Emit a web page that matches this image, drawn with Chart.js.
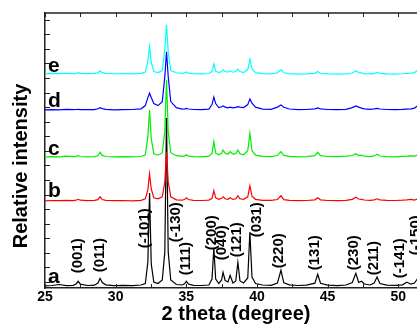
<!DOCTYPE html>
<html><head><meta charset="utf-8">
<script src="https://cdn.jsdelivr.net/npm/chart.js@4.4.0/dist/chart.umd.min.js"></script>
<style>
html,body{margin:0;padding:0;overflow:hidden;background:#fff;width:417px;height:325px}
#wrap{position:relative;width:420px;height:325px}
</style>
</head><body><div id="wrap"><canvas id="c" width="420" height="325"></canvas></div>
<script>
// 2-theta positions (degree)
const twoTheta = [25.0,25.5,26.0,26.5,27.0,27.2,27.35,27.5,28.0,28.5,28.75,28.9,29.05,29.3,29.9,30.5,31.2,31.8,32.1,32.28,32.4,32.52,32.7,33.0,33.3,33.48,33.6,33.72,33.9,34.3,34.7,34.9,35.0,35.15,35.5,36.1,36.6,36.82,36.95,37.08,37.3,37.5,37.6,37.75,37.95,38.1,38.3,38.5,38.65,38.8,39.05,39.35,39.5,39.65,39.9,40.4,41.0,41.45,41.7,41.9,42.3,42.9,43.5,44.1,44.3,44.5,45.0,45.7,46.3,46.75,47.0,47.2,47.4,47.6,48.0,48.3,48.5,48.7,49.2,49.8,50.3,50.6,50.9,51.15,51.4];
// relative intensity (stacked, arbitrary units)
const seriesA = [-3.8,-3.5,-2.5,-3.6,-3.3,-2.0,0.7,-2.2,-3.5,-3.2,-1.0,3.7,-0.5,-2.8,-3.6,-3.3,-3.7,-3.0,-1.5,20,88.7,18,0,-1.5,2,30,163.7,30,2,-2.5,-3.0,-1.5,0.7,-2.0,-3.4,-3.5,-3.0,3,33.7,3,-1.5,2,9.7,1.5,0,6.7,-1,1,19.7,1,-1,4,49.7,5,-1.5,-3.0,-3.3,-1.0,11.7,-0.8,-2.8,-3.5,-3.2,-1.2,7.7,-1.3,-3.2,-3.6,-3.0,-0.5,8.7,-0.5,0.7,-2,-3.0,-1.0,5,-1.5,-3.2,-3.4,-2.8,-0.3,-2.2,-1.0,4];
const seriesB = [81,81.3,81.1,81.4,81.2,81.6,82.5,81.6,81.2,81.4,82.2,85,82.3,81.4,81.1,81.3,81.0,81.5,83,92,108,93,84,83,85,100,129.7,100,85,82,81.6,82.5,84,82.3,81.5,81.3,81.7,83.5,91,84,82.5,83.5,85,83,82.5,84,82.4,83,86,83,82.5,85,96,85.5,82.5,81.5,81.4,82.3,86,82.2,81.5,81.2,81.3,82,84,82,81.3,81.2,81.5,82.5,84.5,82.8,82.5,81.8,81.4,82,83,82,81.4,81.3,81.6,82,82.5,81.8,83];
const seriesC = [124.7,125,124.9,125.5,125,125.3,126,125.2,124.9,125.1,126,129.5,126.3,125.2,124.8,125,124.8,125.2,127,145,171.7,143,128,126.5,129,150,201.7,150,129,126,125.3,125.8,127,125.6,125,124.9,125.5,128,140,128.5,127,128.5,131.7,128.5,127.5,130,127.5,128,131.7,128,127,131,148.4,131,126.5,125.3,125.1,126.2,130,126.3,125.4,124.9,125.1,126,129.4,126,125.2,125,125.5,126.2,128,126.2,126.5,125.5,125.1,125.8,127.5,125.7,125.1,124.9,125.3,125.5,125.8,125.6,127];
const seriesD = [171.7,171.9,171.8,172.2,171.9,172.1,172.3,172.0,171.9,172.0,172.8,174,173,172.2,171.8,172,172.1,172.8,176,184,188.4,184,178,176,180,205,229.7,205,180,174,172.5,172.8,173.2,172.6,172.1,172,172.5,177,184.4,178,174,174.8,175.7,174.5,173.8,174.4,173.8,174.2,175,174.5,174,177,182.7,178.5,174.5,172.5,172.3,174.5,176.7,174.3,172.6,172,172.1,172.7,173.7,172.8,172.1,171.9,172.3,174,175.7,174.5,173.5,172.7,172.2,172.7,173.2,172.6,172.1,171.9,172.2,172.5,172.8,173.5,176];
const seriesE = [207.9,208.1,207.9,208.3,208,208.2,208.9,208.2,207.9,208.1,208.7,210.7,208.9,208.2,207.8,207.9,207.7,208.1,209.5,220,235,219,210,209,211,232,256.7,230,211,208.8,208.2,208.6,209.5,208.4,207.9,207.6,208,210,217.7,210.5,209,210,211.7,210,209.5,210.7,209.3,210,212.4,210,209,212,222.4,212.5,208.9,207.9,207.7,208.8,211.7,208.8,207.9,207.5,207.6,208.2,210,208.3,207.6,207.4,207.6,208.5,210.7,208.8,208.6,207.9,207.6,208.2,209.2,208.2,207.6,207.5,207.8,208.2,208.3,208.9,211.7];

const seriesNames = ['a','b','c','d','e'];
const seriesLetterY = [-1.3,85,126.7,174.7,209.7];
const seriesColors = ['#000000','#ff0000','#00ee00','#0000ff','#00ffff'];
const seriesOrder = [1,0,2,3,4];

const millerLabels = ['(001)','(011)','(-101)','(-130)','(111)','(200)','(040)','(121)','(031)','(220)','(131)','(230)','(211)','(-141)','(-150)'];
const millerX = [27.34,28.89,32.08,34.27,34.98,36.82,37.53,38.59,40.0,41.56,44.11,46.87,48.28,50.12,51.22];
const millerY = [8.7,9.7,33.7,39.7,6.7,31.7,21.7,24.7,44.7,13.7,11.7,11.7,6.7,3.7,26.7];

const xLabelEvery = 5;
const xTitle = '2 theta (degree)';
const yTitle = 'Relative intensity';

const allSeries = [seriesA,seriesB,seriesC,seriesD,seriesE];
const FONT = "'Liberation Sans', Arial, sans-serif";

const decor = {
  id: 'decor',
  afterDatasetsDraw(chart) {
    const ctx = chart.ctx, xs = chart.scales.x, ys = chart.scales.y;
    ctx.save();
    ctx.fillStyle = '#000';
    ctx.font = 'bold 21px ' + FONT;
    ctx.textAlign = 'left';
    ctx.textBaseline = 'alphabetic';
    seriesNames.forEach((n, i) => {
      ctx.fillText(n, xs.getPixelForValue(25.21), ys.getPixelForValue(seriesLetterY[i]));
    });
    ctx.font = 'bold 15px ' + FONT;
    ctx.textBaseline = 'middle';
    millerLabels.forEach((t, i) => {
      ctx.save();
      ctx.translate(xs.getPixelForValue(millerX[i]), ys.getPixelForValue(millerY[i]));
      ctx.rotate(-Math.PI / 2);
      ctx.fillText(t, 0, 0);
      ctx.restore();
    });
    ctx.restore();
  },
  afterDraw(chart) {
    const ctx = chart.ctx, xs = chart.scales.x, ys = chart.scales.y, a = chart.chartArea;
    ctx.save();
    ctx.strokeStyle = '#222';
    ctx.lineWidth = 1.5;
    ctx.beginPath();
    ctx.moveTo(a.left, a.top); ctx.lineTo(a.right + 2, a.top);
    ctx.stroke();
    ctx.lineWidth = 1;
    ctx.beginPath();
    ys.ticks.forEach(t => {
      const y = Math.round(ys.getPixelForValue(t.value)) + 0.5;
      ctx.moveTo(a.left, y); ctx.lineTo(a.left + 5, y);
    });
    xs.ticks.forEach(t => {
      const x = Math.round(xs.getPixelForValue(t.value)) + 0.5;
      ctx.moveTo(x, a.bottom); ctx.lineTo(x, a.bottom - 4);
      ctx.moveTo(x, a.top); ctx.lineTo(x, a.top + 4);
    });
    ctx.stroke();
    ctx.fillStyle = '#000';
    ctx.font = 'bold 20px ' + FONT;
    ctx.textAlign = 'center';
    ctx.textBaseline = 'alphabetic';
    ctx.fillText(xTitle, 236, 320);
    ctx.save();
    ctx.translate(26.5, 166);
    ctx.rotate(-Math.PI / 2);
    ctx.fillText(yTitle, 0, 0);
    ctx.restore();
    ctx.restore();
  }
};

new Chart(document.getElementById('c'), {
  type: 'line',
  data: {
    datasets: allSeries.map((s, i) => ({
      label: seriesNames[i],
      data: twoTheta.map((x, j) => ({x: x, y: s[j]})),
      borderColor: seriesColors[i],
      borderWidth: 1.2,
      pointRadius: 0,
      tension: 0,
      fill: false,
      order: seriesOrder[i]
    }))
  },
  options: {
    responsive: false,
    devicePixelRatio: 1,
    animation: false,
    events: [],
    layout: {padding: {top: 13, left: 0, right: 0, bottom: 0}},
    plugins: {legend: {display: false}, tooltip: {enabled: false}, title: {display: false}},
    scales: {
      x: {
        type: 'linear', min: 25, max: 51.54,
        grid: {display: false, drawTicks: false},
        border: {display: true, color: '#222', width: 1.5},
        ticks: {
          stepSize: 2.5, includeBounds: false, autoSkip: false, maxRotation: 0, padding: 1,
          color: '#000', font: {family: FONT, weight: 'bold', size: 14},
          callback: v => (Math.abs(v % xLabelEvery) < 1e-6 ? String(v) : '')
        },
        afterFit: s => { s.height = 37; }
      },
      y: {
        min: -6, max: 268.4,
        grid: {display: false, drawTicks: false},
        border: {display: true, color: '#222', width: 1.5},
        ticks: {display: false, stepSize: 14.54, includeBounds: false},
        afterFit: s => { s.width = 45; }
      }
    }
  },
  plugins: [decor]
});
</script>
</body></html>
